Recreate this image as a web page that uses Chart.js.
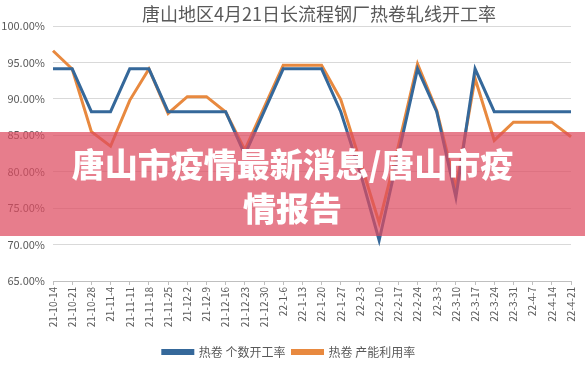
<!DOCTYPE html>
<html>
<head>
<meta charset="utf-8">
<script src="https://cdn.jsdelivr.net/npm/chart.js@4.4.1/dist/chart.umd.min.js"></script>
<style>
  html, body { margin: 0; padding: 0; background: #fff; }
  #wrap { position: relative; width: 585px; height: 368px; }
  #banner {
    position: absolute; left: 0; top: 132px; width: 585px; height: 104px;
    background: rgba(222, 75, 95, 0.72);
    color: #fff; text-align: center;
    font-family: "Noto Sans CJK SC", sans-serif; font-weight: 900;
    font-size: 33px; line-height: 44px; padding-top: 9px; box-sizing: border-box;
  }
</style>
</head>
<body>
<div id="wrap">
  <canvas id="myChart" width="585" height="368"></canvas>
  <div id="banner">唐山市疫情最新消息/唐山市疫<br>情报告</div>
</div>
<script>
// data
const labels = ['21-10-14', '21-10-21', '21-10-28', '21-11-4', '21-11-11', '21-11-18', '21-11-25',
  '21-12-2', '21-12-9', '21-12-16', '21-12-23', '21-12-30', '22-1-6', '22-1-13', '22-1-20',
  '22-1-27', '22-2-3', '22-2-10', '22-2-17', '22-2-24', '22-3-3', '22-3-10', '22-3-17',
  '22-3-24', '22-3-31', '22-4-7', '22-4-14', '22-4-21'];

const countRate = [94.12, 94.12, 88.24, 88.24, 94.12, 94.12, 88.24, 88.24, 88.24, 88.24, 82.35, 88.24,
  94.12, 94.12, 94.12, 88.24, 80.0, 70.59, 82.35, 94.12, 88.24, 76.47, 94.12, 88.24,
  88.24, 88.24, 88.24, 88.24];

const capacityRate = [96.6, 94.1, 85.5, 83.5, 89.8, 94.1, 88.0, 90.3, 90.3, 88.2, 83.0, 88.8,
  94.6, 94.6, 94.6, 89.9, 81.5, 73.0, 83.5, 94.8, 88.4, 77.8, 92.8, 84.3,
  86.8, 86.8, 86.8, 84.8];

const titleText = '唐山地区4月21日长流程钢厂热卷轧线开工率';
const font = '"Noto Sans CJK SC", sans-serif';

// title centered on the plot area
const titlePlugin = {
  id: 'titlePlugin',
  afterDraw(chart) {
    const {ctx, chartArea: {left, right}} = chart;
    ctx.save();
    ctx.font = '18px ' + font;
    ctx.fillStyle = '#595959';
    ctx.textAlign = 'center';
    ctx.textBaseline = 'middle';
    ctx.fillText(titleText, (left + right) / 2 + 7, 14);
    ctx.restore();
  }
};

const data = {
  labels: labels,
  datasets: [{
    label: '热卷 个数开工率',
    data: countRate,
    borderColor: '#35689a',
    backgroundColor: '#35689a',
    borderWidth: 3,
    pointRadius: 0,
    tension: 0
  }, {
    label: '热卷 产能利用率',
    data: capacityRate,
    borderColor: '#e8893f',
    backgroundColor: '#e8893f',
    borderWidth: 3,
    pointRadius: 0,
    tension: 0
  }]
};

const config = {
  type: 'line',
  data,
  options: {
    responsive: false,
    animation: false,
    layout: { padding: { top: 26, right: 7, left: 0, bottom: 0 } },
    plugins: {
      title: { display: false },
      tooltip: { enabled: false },
      legend: {
        position: 'bottom',
        labels: {
          boxWidth: 30,
          boxHeight: 3,
          padding: 7,
          color: '#595959',
          font: { family: font, size: 12 }
        }
      }
    },
    scales: {
      x: {
        offset: false,
        grid: { display: true, drawOnChartArea: false, drawTicks: true, tickLength: 4, color: '#bfbfbf' },
        border: { color: '#bfbfbf' },
        ticks: {
          autoSkip: false,
          minRotation: 90,
          maxRotation: 90,
          padding: 2,
          color: '#595959',
          font: { family: font, size: 10 }
        },
        afterFit(scale) { scale.height = 58; }
      },
      y: {
        min: 65,
        max: 100,
        grid: { color: '#d9d9d9', drawTicks: false },
        border: { display: false },
        ticks: {
          stepSize: 5,
          padding: 8,
          color: '#595959',
          font: { family: font, size: 11 },
          callback: v => v.toFixed(2) + '%'
        },
        afterFit(scale) { scale.width = 53; }
      }
    }
  },
  plugins: [titlePlugin]
};

const myChart = new Chart(document.getElementById('myChart'), config);
</script>
</body>
</html>
